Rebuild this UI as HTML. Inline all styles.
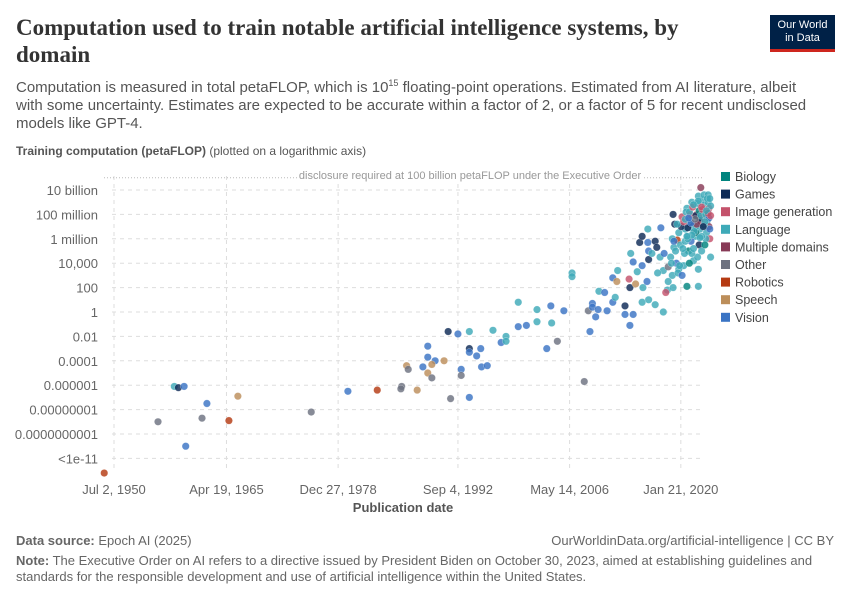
<!DOCTYPE html>
<html><head><meta charset="utf-8">
<style>
body{margin:0;background:#fff;font-family:"Liberation Sans",sans-serif;}
#wrap{position:relative;width:850px;height:600px;overflow:hidden;}
.t{position:absolute;white-space:nowrap;}
</style></head>
<body>
<div id="wrap">
<div class="t" style="left:16px;top:14px;font-family:'Liberation Serif',serif;font-size:23px;font-weight:bold;color:#333;line-height:27px;">Computation used to train notable artificial intelligence systems, by<br>domain</div>
<div style="position:absolute;left:770px;top:15px;width:65px;height:37px;background:#002147;border-bottom:3px solid #ce261e;color:#fff;font-size:11px;line-height:13px;text-align:center;padding-top:4px;box-sizing:border-box;">Our World<br>in Data</div>
<div class="t" style="left:16px;top:74px;font-size:15px;line-height:18px;color:#555;">Computation is measured in total petaFLOP, which is 10<sup style="font-size:9px">15</sup> floating-point operations. Estimated from AI literature, albeit<br>with some uncertainty. Estimates are expected to be accurate within a factor of 2, or a factor of 5 for recent undisclosed<br>models like GPT-4.</div>
<div class="t" style="left:16px;top:144px;font-size:12px;color:#555;"><b>Training computation (petaFLOP)</b> (plotted on a logarithmic axis)</div>
<svg id="plot" width="850" height="600" style="position:absolute;left:0;top:0"></svg>
<div class="t" style="left:16px;top:533px;font-size:13px;color:#666;"><b>Data source:</b> Epoch AI (2025)</div>
<div class="t" style="right:16px;top:533px;font-size:13px;color:#666;">OurWorldinData.org/artificial-intelligence | CC BY</div>
<div class="t" style="left:16px;top:553px;font-size:13px;line-height:16px;color:#666;"><b>Note:</b> The Executive Order on AI refers to a directive issued by President Biden on October 30, 2023, aimed at establishing guidelines and<br>standards for the responsible development and use of artificial intelligence within the United States.</div>
</div>
<script>
const categories=["Biology","Games","Image generation","Language","Multiple domains","Other","Robotics","Speech","Vision"];
const colors=["#00847e","#0d2a55","#c4526b","#3eaab8","#883a57","#6d7280","#b53a12","#bc8e5a","#3a74c4"];
const yTickValues=[10,8,6,4,2,0,-2,-4,-6,-8,-10,-12];
const yTickLabels=["10 billion","100 million","1 million","10,000","100","1","0.01","0.0001","0.000001","0.00000001","0.0000000001","<1e-11"];
const xTickYears=[1950.5,1964.3,1978.0,1992.7,2006.4,2020.05];
const xTickLabels=["Jul 2, 1950","Apr 19, 1965","Dec 27, 1978","Sep 4, 1992","May 14, 2006","Jan 21, 2020"];
const years=[1949.3,1955.9,1957.9,1958.4,1959.1,1959.3,1961.9,1961.3,1964.6,1965.7,1974.7,1979.2,1982.8,1986.4,1986.6,1985.8,1985.7,1987.7,
1989.0,1989.0,1988.4,1989.9,1989.5,1989.0,1989.5,1991.0,1991.5,1992.7,1994.1,1994.1,1994.1,1995.5,1995.0,1993.1,1993.1,1995.6,1996.3,1991.8,1994.1,
1997.0,1998.0,1998.6,1998.6,2000.1,2001.1,2000.1,2002.4,2002.4,2004.1,2004.2,2005.7,2003.6,2004.9,2008.2,2006.7,2006.7,2008.7,2008.9,2009.2,2009.2,2009.6,2009.9,2010.0,2010.7,2011.0,2011.7,2012.0,2011.7,2012.3,2013.2,2013.2,2013.8,2014.2,2012.2,2013.7,2013.8,2014.5,2013.9,2014.2,2015.0,2015.3,2016.0,2016.0,2016.1,2016.1,2015.3,2014.7,2015.4,2015.9,2015.3,2016.1,2016.9,2017.9,2016.9,2017.1,2017.6,2017.9,2018.5,2018.4,2019.1,2018.2,2019.2,2019.1,2019.6,2020.8,2022.2,2022.5,
2018.8,2019.0,2019.3,2019.5,2019.8,2020.0,2020.2,2020.4,2020.6,2020.8,2021.0,2021.2,2021.4,2021.6,2021.8,2022.0,2022.2,2022.4,2022.6,2022.8,2023.0,2023.2,2023.4,
2019.0,2019.4,2019.8,2020.1,2020.5,2020.9,2021.3,2021.7,2022.1,2022.5,2022.9,2023.3,2023.6,
2019.2,2019.7,2020.3,2020.7,2021.1,2021.5,2021.9,2022.3,2022.7,2023.1,2023.5,
2018.5,2018.9,2019.6,2020.2,2020.6,2021.0,2021.4,2021.8,2022.2,2022.6,2023.0,2023.4,2023.7,
2020.4,2021.2,2021.9,2022.4,2022.8,2023.2,2023.6,2022.0,2021.6,2020.9,2023.5,2023.0,2022.6,2019.9,2017.5,2018.0,2017.2,2016.5,
2020.6,2020.9,2021.1,2021.3,2021.5,2021.7,2021.9,2022.1,2022.3,2022.5,2022.7,2022.9,2023.1,2023.3,2023.5,2023.7,2021.4,2021.8,2022.2,2022.6,2023.0,2023.4,2023.6,2020.8,2021.0,2022.4,2022.8,2023.2,2023.7,2021.6];
const logs=[-13.2,-9.0,-6.1,-6.2,-6.1,-11,-7.5,-8.7,-8.9,-6.9,-8.2,-6.5,-6.4,-4.4,-4.7,-6.1,-6.3,-6.4,
-2.8,-3.7,-4.5,-4.0,-4.3,-5.0,-5.4,-4.0,-1.6,-1.8,-1.6,-3.0,-3.3,-3.0,-3.6,-4.7,-5.2,-4.5,-4.4,-7.1,-7.0,
-1.5,-2.5,-2.0,-2.4,-1.2,-1.1,0.8,0.2,-0.8,0.5,-0.9,0.1,-3.0,-2.4,-5.7,3.2,2.9,0.1,-1.6,0.7,0.4,-0.4,0.2,1.7,1.6,0.1,0.8,1.2,2.8,3.4,0.5,-0.2,-1.1,-0.2,2.5,2.7,2.0,2.3,4.8,4.1,5.7,6.2,6.8,5.7,5.0,4.3,3.8,3.3,2.0,2.5,0.8,1.0,0.6,0.0,5.8,5.3,6.9,3.4,3.7,1.8,2.0,1.6,5.3,8.0,5.9,2.1,2.1,10.2,
4.5,6.0,7.2,4.0,6.5,5.5,7.8,3.8,6.8,8.5,5.0,7.2,9.0,4.2,6.2,8.0,9.5,6.8,7.5,9.2,8.8,6.5,9.0,
3.0,5.0,3.5,7.0,4.8,6.2,5.8,8.8,4.5,7.8,9.6,7.5,6.0,
5.8,3.2,5.2,8.2,4.0,6.8,7.0,5.5,8.0,6.0,7.0,
2.5,4.0,7.2,3.0,5.8,7.5,4.8,6.5,3.5,5.0,8.2,9.6,4.5,
7.4,8.0,6.5,7.5,7.2,7.8,6.8,7.2,5.2,6.0,8.5,5.5,6.2,3.8,4.5,4.8,3.2,4.8,
7.6,6.9,8.2,7.3,8.6,6.6,7.9,8.9,8.3,7.9,8.4,7.1,8.0,9.3,7.7,8.7,6.3,7.6,9.1,8.6,7.4,8.1,9.3,6.2,7.7,6.1,7.0,8.3,7.9,8.8];
const domains=[6,5,3,1,8,8,8,5,6,7,5,8,6,7,5,5,5,7,
8,8,8,8,7,7,5,7,1,8,3,1,8,8,8,8,5,8,8,5,8,
3,8,3,3,8,8,3,3,3,8,3,8,8,5,5,3,3,5,8,8,8,8,8,3,8,8,8,3,8,3,1,8,8,8,7,2,1,7,3,8,1,1,3,8,8,1,8,3,3,8,3,3,3,3,1,1,8,3,5,3,3,2,3,1,6,0,3,4,
3,3,1,8,3,3,2,3,3,3,0,1,3,3,3,2,3,3,2,3,3,3,3,
3,3,3,1,3,3,8,3,3,0,3,3,2,
8,3,3,3,0,3,3,1,2,3,4,
3,3,3,8,3,3,3,2,3,3,3,3,3,
2,2,0,1,2,5,8,4,3,3,2,0,3,3,3,8,3,3,
3,1,3,8,2,3,1,3,0,3,2,3,3,3,8,3,3,5,3,2,3,4,3,3,8,3,1,3,2,3];
const svg=document.getElementById('plot');const NS='http://www.w3.org/2000/svg';
const X0=104,X1=703;
function xs(y){return 114+(y-1950.5)*8.15;}
function ys(l){return 190+(10-l)*12.2;}
function mk(t,a,p){const e=document.createElementNS(NS,t);for(const k in a)e.setAttribute(k,a[k]);(p||svg).appendChild(e);return e;}
yTickValues.forEach((v,i)=>{
 const l=mk('line',{x1:112,x2:X1,y1:ys(v),y2:ys(v),stroke:'#ddd','stroke-dasharray':'4,4'});
 
 
 const t=mk('text',{x:98,y:ys(v)+5,'text-anchor':'end','font-size':13,fill:'#666','font-family':'Liberation Sans'});
 t.textContent=yTickLabels[i];
 
 
});
xTickYears.forEach((v,i)=>{
 const l=mk('line',{x1:xs(v),x2:xs(v),y1:176,y2:470,stroke:'#ddd','stroke-dasharray':'4,4'});
 
 
 const t=mk('text',{x:xs(v),y:494,'text-anchor':'middle','font-size':13,fill:'#666','font-family':'Liberation Sans'});
 t.textContent=xTickLabels[i];
 
 
});
const dl=mk('line',{x1:X0,x2:X1,y1:ys(11),y2:ys(11),stroke:'#bbb','stroke-dasharray':'1,2'});


const dr=mk('rect',{x:298,y:ys(11)-9,width:345,height:13,fill:'#fff'});


const dt=mk('text',{x:470,y:ys(11)+1,'text-anchor':'middle','font-size':11,fill:'#999','font-family':'Liberation Sans'});
dt.textContent='disclosure required at 100 billion petaFLOP under the Executive Order';


const xt=mk('text',{x:403,y:512,'text-anchor':'middle','font-size':13,'font-weight':'bold',fill:'#555','font-family':'Liberation Sans'});
xt.textContent='Publication date';


years.forEach((y,i)=>{
 const c=mk('circle',{cx:xs(y),cy:ys(logs[i]),r:3.7,fill:colors[domains[i]],'fill-opacity':0.82,stroke:'#fff','stroke-width':0.4,'stroke-opacity':0.6});
 
 
});
categories.forEach((c,i)=>{
 const yy=177+i*17.6;
 const r=mk('rect',{x:721,y:yy-5,width:9,height:9,fill:colors[i]});
 
 
 const t=mk('text',{x:735,y:yy+4,'font-size':12.5,fill:'#444','font-family':'Liberation Sans'});
 t.textContent=c;
 
 
});
</script>
</body></html>
